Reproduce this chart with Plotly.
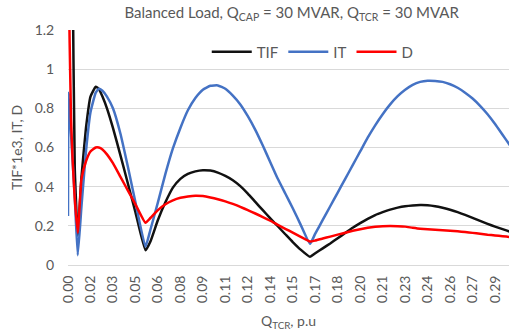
import plotly.graph_objects as go

# Q_TCR (p.u.) sample points
q_tcr = [0, 0.0004, 0.002, 0.003, 0.0045, 0.0065, 0.009, 0.012, 0.015, 0.0185,
         0.0205, 0.023, 0.026, 0.03, 0.035, 0.04, 0.045, 0.0517, 0.055, 0.06,
         0.065, 0.07, 0.075, 0.08, 0.085, 0.09, 0.095, 0.1, 0.105, 0.11,
         0.115, 0.12, 0.125, 0.13, 0.135, 0.14, 0.145, 0.15, 0.155, 0.1615,
         0.165, 0.17, 0.175, 0.18, 0.185, 0.19, 0.195, 0.2, 0.205, 0.21,
         0.215, 0.22, 0.225, 0.23, 0.235, 0.24, 0.245, 0.25, 0.255, 0.26,
         0.265, 0.27, 0.275, 0.28, 0.285, 0.29, 0.295, 0.3]

tif = [8.0, 6.0, 3.0, 1.6, 0.5, 0.15, 0.45, 0.70, 0.86, 0.91,
       0.90, 0.86, 0.80, 0.70, 0.56, 0.415, 0.27, 0.075, 0.12, 0.23,
       0.32, 0.395, 0.44, 0.465, 0.478, 0.484, 0.482, 0.472, 0.455, 0.433,
       0.403, 0.365, 0.322, 0.28, 0.238, 0.198, 0.157, 0.117, 0.08, 0.042,
       0.06, 0.085, 0.11, 0.137, 0.163, 0.19, 0.214, 0.236, 0.255, 0.27,
       0.283, 0.293, 0.30, 0.304, 0.306, 0.305, 0.30, 0.292, 0.282, 0.27,
       0.256, 0.241, 0.225, 0.21, 0.196, 0.183, 0.17, 0.157]

it = [0.25, 0.88, 0.67, 0.54, 0.35, 0.05, 0.30, 0.58, 0.78, 0.88,
      0.90, 0.89, 0.86, 0.80, 0.67, 0.50, 0.32, 0.093, 0.18, 0.32,
      0.465, 0.595, 0.70, 0.79, 0.853, 0.895, 0.915, 0.917, 0.90, 0.865,
      0.82, 0.76, 0.69, 0.61, 0.525, 0.44, 0.365, 0.29, 0.21, 0.108,
      0.16, 0.23, 0.30, 0.37, 0.44, 0.51, 0.58, 0.65, 0.713, 0.77,
      0.82, 0.862, 0.895, 0.92, 0.935, 0.941, 0.94, 0.935, 0.923, 0.905,
      0.88, 0.85, 0.813, 0.77, 0.72, 0.665, 0.61, 0.555]

d = [3.0, 1.5, 0.75, 0.55, 0.34, 0.165, 0.44, 0.53, 0.58, 0.60,
     0.60, 0.59, 0.565, 0.52, 0.45, 0.38, 0.31, 0.216, 0.24, 0.28,
     0.31, 0.33, 0.343, 0.35, 0.354, 0.352, 0.345, 0.336, 0.325, 0.312,
     0.297, 0.28, 0.263, 0.245, 0.226, 0.205, 0.185, 0.165, 0.145, 0.12,
     0.125, 0.135, 0.145, 0.155, 0.165, 0.175, 0.183, 0.19, 0.195, 0.198,
     0.199, 0.198, 0.196, 0.19, 0.185, 0.182, 0.18, 0.178, 0.175, 0.172,
     0.168, 0.164, 0.16, 0.155, 0.151, 0.147, 0.143, 0.139]

x_tick_vals = [0, 0.015, 0.03, 0.045, 0.06, 0.075, 0.09, 0.105, 0.12, 0.135,
               0.15, 0.165, 0.18, 0.195, 0.21, 0.225, 0.24, 0.255, 0.27, 0.285]
x_tick_text = ["0.00", "0.02", "0.03", "0.05", "0.06", "0.08", "0.09", "0.11",
               "0.12", "0.14", "0.15", "0.17", "0.18", "0.20", "0.21", "0.23",
               "0.24", "0.26", "0.27", "0.29"]
y_tick_vals = [0, 0.2, 0.4, 0.6, 0.8, 1.0, 1.2]
y_tick_text = ["0", "0.2", "0.4", "0.6", "0.8", "1", "1.2"]

FONT = "Lato"
GRAY = "#595959"

fig = go.Figure()
series = [("TIF", tif, "#111111"), ("IT", it, "#4472C4"), ("D", d, "#FF0000")]
for name, vals, col in series:
    fig.add_trace(go.Scatter(
        x=q_tcr, y=vals, name=name, mode="lines",
        line=dict(color=col, width=2.5, shape="spline", smoothing=0.4),
    ))

fig.update_layout(
    width=509, height=335,
    margin=dict(l=68, r=0, t=30, b=70, autoexpand=False),
    paper_bgcolor="white", plot_bgcolor="white",
    font=dict(family=FONT, size=12, color=GRAY),
    title=dict(
        text="Balanced Load, Q<sub>CAP</sub> = 30 MVAR, Q<sub>TCR</sub> = 30 MVAR",
        x=0.573, xanchor="center", y=0.962, yanchor="middle",
        font=dict(family=FONT, size=15, color=GRAY),
    ),
    showlegend=True,
    legend=dict(
        orientation="h", x=0.555, xanchor="center", y=0.906, yanchor="middle",
        font=dict(family=FONT, size=15, color=GRAY),
        bgcolor="rgba(0,0,0,0)", itemwidth=40, tracegroupgap=0,
    ),
    xaxis=dict(
        range=[0, 0.2943], tickmode="array", tickvals=x_tick_vals,
        ticktext=x_tick_text, tickangle=-90, showgrid=False, automargin=False,
        showline=True, linecolor="#d9d9d9", linewidth=1,
        ticks="outside", ticklen=4, tickcolor="rgba(0,0,0,0)",
        zeroline=False, tickfont=dict(size=14, color=GRAY),
        title=dict(text="Q<sub>TCR</sub>, p.u", standoff=13,
                   font=dict(size=14, color=GRAY)),
    ),
    yaxis=dict(
        range=[0, 1.2], tickmode="array", tickvals=y_tick_vals,
        ticktext=y_tick_text, showgrid=True, gridcolor="#d9d9d9",
        gridwidth=1, zeroline=False, showline=False, automargin=False,
        ticks="outside", ticklen=10, tickcolor="rgba(0,0,0,0)",
        tickfont=dict(size=14, color=GRAY),
        title=dict(text="TIF*1e3, IT, D", standoff=8,
                   font=dict(size=14, color=GRAY)),
    ),
)

fig.write_html("out.html", config={"displayModeBar": False},
               post_script="document.body.style.margin='0';")
